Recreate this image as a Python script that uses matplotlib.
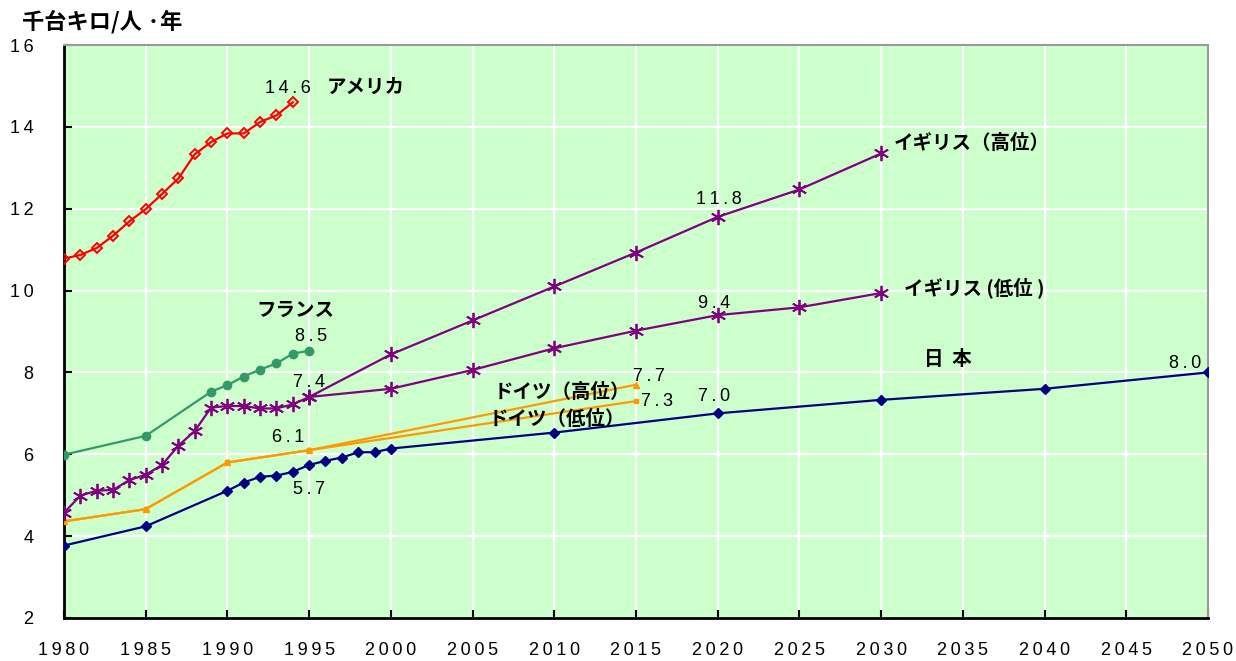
import matplotlib
matplotlib.use("Agg")
import matplotlib.pyplot as plt

# --- data ---
us_years = list(range(1980, 1995))
us_vals = [10.78, 10.87, 11.04, 11.34, 11.69, 11.99, 12.36, 12.74, 13.33,
           13.63, 13.84, 13.84, 14.12, 14.28, 14.6]

fr_years = [1980, 1985, 1989, 1990, 1991, 1992, 1993, 1994, 1995]
fr_vals = [5.99, 6.45, 7.53, 7.69, 7.90, 8.07, 8.22, 8.46, 8.53]

uk_years = list(range(1980, 1996))
uk_vals = [4.57, 4.99, 5.11, 5.13, 5.37, 5.50, 5.74, 6.21, 6.57, 7.14,
           7.18, 7.18, 7.12, 7.12, 7.22, 7.4]
uk_fut_years = [1995, 2000, 2005, 2010, 2015, 2020, 2025, 2030]
uk_high = [7.4, 8.44, 9.27, 10.10, 10.93, 11.8, 12.47, 13.35]
uk_low = [7.4, 7.60, 8.06, 8.59, 9.02, 9.4, 9.59, 9.94]

de_years = [1980, 1985, 1990, 1995, 2015]
de_high = [4.36, 4.66, 5.80, 6.1, 7.7]
de_low = [4.36, 4.66, 5.80, 6.1, 7.3]

jp_years = [1980, 1985, 1990, 1991, 1992, 1993, 1994, 1995, 1996, 1997,
            1998, 1999, 2000, 2010, 2020, 2030, 2040, 2050]
jp_vals = [3.77, 4.24, 5.11, 5.31, 5.45, 5.48, 5.57, 5.74, 5.84, 5.92,
           6.05, 6.05, 6.14, 6.53, 7.0, 7.33, 7.60, 8.0]

x_ticks = list(range(1980, 2051, 5))
y_ticks = list(range(2, 17, 2))

JP = ['Noto Sans CJK JP', 'DejaVu Sans']
NUM = ['Liberation Sans', 'DejaVu Sans']


def spaced(s):
    # the original numbers are drawn with a little letter spacing
    return '\u2009'.join(s)


fig = plt.figure(figsize=(12.36, 6.61), dpi=100)
ax = fig.add_axes([64 / 1236, 1 - 618 / 661, (1208 - 64) / 1236, (618 - 45) / 661])
ax.set_facecolor('#CCFFCC')

star = (6, 2, 0)

ax.plot(jp_years, jp_vals, color='#000080', lw=1.6, marker='D', ms=5.5,
        zorder=3)
ax.plot(de_years, de_low, color='#FF9900', lw=1.6, marker='s', ms=3.5,
        zorder=3)
ax.plot(de_years, de_high, color='#FF9900', lw=1.6, marker='^', ms=4.5,
        zorder=3)
ax.plot(uk_fut_years, uk_low, color='#800080', lw=1.6, marker=star, ms=11,
        mew=1.3, zorder=3)
ax.plot(uk_fut_years, uk_high, color='#800080', lw=1.6, marker=star, ms=11,
        mew=1.3, zorder=3)
ax.plot(uk_years, uk_vals, color='#800080', lw=1.6, marker=star, ms=11,
        mew=1.3, zorder=3)
ax.plot(fr_years, fr_vals, color='#339966', lw=1.6, marker='o', ms=6,
        zorder=3)
ax.plot(us_years, us_vals, color='#FF0000', lw=1.6, marker='D', ms=5.5,
        mfc='none', mew=1.4, zorder=3)

ax.set_xlim(1980, 2050)
ax.set_ylim(2, 16)
ax.set_xticks(x_ticks)
ax.set_yticks(y_ticks)
ax.set_xticklabels([spaced(str(t)) for t in x_ticks], fontfamily=NUM, fontsize=13)
ax.set_yticklabels([spaced(str(t)) for t in y_ticks], fontfamily=NUM, fontsize=13)
ax.tick_params(axis='x', direction='in', length=6, width=1.5, pad=17)
ax.tick_params(axis='y', direction='in', length=6, width=1.5, pad=22)
ax.grid(True, color='white', lw=1.6)
ax.set_axisbelow(True)
for s in ['left', 'bottom']:
    ax.spines[s].set_linewidth(2)
    ax.spines[s].set_color('black')
for s in ['top', 'right']:
    ax.spines[s].set_linewidth(1.5)
    ax.spines[s].set_color('#999999')

# value labels
num_kw = dict(fontfamily=NUM, fontsize=13, color='black', va='center')
ax.text(1993.7, 14.94, spaced('14.6'), ha='center', **num_kw)
ax.text(2020.1, 12.22, spaced('11.8'), ha='center', **num_kw)
ax.text(2019.8, 9.68, spaced('9.4'), ha='center', **num_kw)
ax.text(1995.1, 8.88, spaced('8.5'), ha='center', **num_kw)
ax.text(1995.0, 7.76, spaced('7.4'), ha='center', **num_kw)
ax.text(1993.7, 6.42, spaced('6.1'), ha='center', **num_kw)
ax.text(1995.0, 5.15, spaced('5.7'), ha='center', **num_kw)
ax.text(2048.6, 8.22, spaced('8.0'), ha='center', **num_kw)
ax.text(2019.8, 7.42, spaced('7.0'), ha='center', **num_kw)
ax.text(2014.8, 7.91, spaced('7.7'), ha='left', **num_kw)
ax.text(2015.3, 7.28, spaced('7.3'), ha='left', **num_kw)

# series names
jp_kw = dict(fontfamily=JP, fontsize=14, fontweight='bold', color='black',
             va='center', ha='left')
ax.text(1996.1, 14.97, 'アメリカ', **jp_kw)
ax.text(2030.8, 13.6, 'イギリス（高位）', **jp_kw)
ax.text(2031.4, 10.07, 'イギリス (低位 )', **jp_kw)
ax.text(1991.8, 9.51, 'フランス', **jp_kw)
ax.text(2032.6, 8.32, '日  本', **jp_kw)
ax.text(2006.3, 7.51, 'ドイツ（高位）', **jp_kw)
ax.text(2006.0, 6.86, 'ドイツ（低位）', **jp_kw)

fig.text(22 / 1236, 1 - 22 / 661, '千台キロ/人 ·年', fontfamily=JP, fontsize=16,
         fontweight='bold', va='center', ha='left')

fig.savefig('out.png', dpi=100)
